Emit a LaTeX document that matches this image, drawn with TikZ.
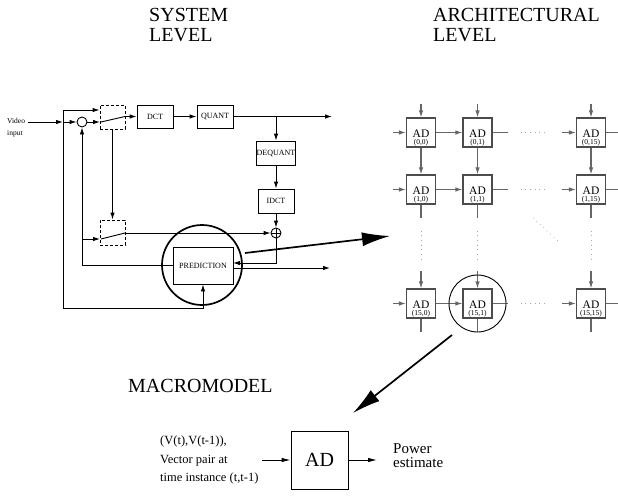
\documentclass[tikz,border=0pt]{standalone}
\usepackage{fontspec}
\setmainfont{Liberation Serif}
\usetikzlibrary{arrows.meta,calc}
\begin{document}
\begin{tikzpicture}[x=1pt,y=-1pt,
  blk/.style={draw,line width=0.9pt,minimum width=36pt,minimum height=24pt,inner sep=0pt,font=\fontsize{8}{9}\selectfont},
  dbox/.style={draw,dash pattern=on 3pt off 2pt,line width=0.9pt,minimum width=25pt,minimum height=24pt,inner sep=0pt},
  sumc/.style={draw,circle,line width=0.9pt,minimum size=10pt,inner sep=0pt},
  wire/.style={line width=0.9pt},
  arr/.style={wire,-{Latex[length=7pt,width=4.5pt]}},
  marr/.style={wire,-{Latex[length=9pt,width=4.5pt]}},
  big/.style={line width=1.7pt,-{Latex[length=28pt,width=14pt]}},
  ad/.style={draw=black!70,line width=1.1pt,minimum size=29pt,inner sep=0pt},
  gw/.style={draw=black!60,line width=1.1pt},
  garr/.style={gw,-{Latex[length=7pt,width=4.5pt]}},
  gdot/.style={draw=black!35,line width=0.7pt,dash pattern=on 0.7pt off 4pt},
  title/.style={font=\fontsize{20}{20}\selectfont,align=left,anchor=north west,inner sep=0pt}
]
\useasboundingbox (0,0) rectangle (618,495);

% titles
\node[title] (tsys) at (149,8.5) {SYSTEM\\LEVEL};
\node[title] (tarch) at (433,8.5) {ARCHITECTURAL\\LEVEL};
\node[inner sep=0pt,anchor=base west,font=\fontsize{20}{20}\selectfont] (tmac) at (128,392) {MACROMODEL};

% ---------- system level ----------
\node[inner sep=0pt,anchor=west,align=left,font=\fontsize{7.5}{12}\selectfont] (vin) at (7,128) {Video\\input};
\node[sumc] (c1) at (82,122) {};
\node[dbox] (s1) at (112.5,117) {};
\node[blk,minimum height=23pt] (dct) at (155,116.5) {DCT};
\node[blk,minimum height=23pt] (quant) at (215,116.5) {QUANT};
\node[blk] (deq) at (276,153) {DEQUANT};
\node[blk] (idct) at (276,201) {IDCT};
\node[sumc] (c2) at (276,233) {};
\draw[wire] (c2.north) -- (c2.south) (c2.west) -- (c2.east);
\node[dbox,minimum height=25pt] (s2) at (112.5,232.5) {};
\node[blk,minimum width=60pt,minimum height=37pt] (pred) at (203,265.5) {PREDICTION};
\node[circle,draw,line width=1.7pt,minimum size=80pt,inner sep=0pt] (bigc) at (202,265) {};

\coordinate (vine) at (28,122);
\coordinate (j1) at (63,122);
\coordinate (lt) at (63,110);
\coordinate (lb) at (63,308);
\coordinate (s1in) at (100,122);
\coordinate (sw1a) at (101,122);
\coordinate (sw1) at (125,116.5);
\coordinate (qout) at (332,116.5);
\coordinate (qbr) at (276,116.5);
\coordinate (fb) at (82,239);
\coordinate (s2in) at (100,239);
\coordinate (sw2a) at (101,239);
\coordinate (sw2) at (125,233);
\coordinate (pin) at (233,263);
\coordinate (pout0) at (233,268);
\coordinate (pout) at (330,268);

\draw[arr] (vine) -- (j1);
\draw[arr] (j1) -- (c1.west);
\draw[arr] (lb) -- (lt) -- (s1.west |- lt);
\draw[arr] (lb) -| (pred.south);
\draw[arr] (c1.east) -- (s1in);
\draw[wire] (sw1a) -- (sw1);
\draw[arr] (sw1) -- (dct.west);
\draw[arr] (dct) -- (quant);
\draw[arr] (quant.east) -- (qout);
\draw[arr] (qbr) -- (deq.north);
\draw[arr] (deq) -- (idct);
\draw[arr] (idct) -- (c2);
\draw[arr] (s1.south) -- (s2.north);
\draw[arr] (pred.west) -| (c1.south);
\draw[arr] (fb) -- (s2in);
\draw[wire] (sw2a) -- (sw2);
\draw[arr] (sw2) -- (c2.west);
\draw[arr] (c2.south) |- (pin);
\draw[arr] (pout0) -- (pout);

\coordinate (ba1s) at (245,253);
\coordinate (ba1e) at (390,236);
\draw[big] (ba1s) -- (ba1e);

% ---------- architectural level ----------
\foreach \rr/\ry/\ri in {0/132.5/0, 1/189.5/1, 2/303.5/15} {
  \foreach \cc/\cx/\ci in {0/421/0, 1/477.5/1, 2/591/15} {
    \node[ad] (b\rr\cc) at (\cx,\ry) {};
    \node[inner sep=0pt,font=\fontsize{11.5}{11}\selectfont] (t\rr\cc) at ($(b\rr\cc.center)+(0,1.5)$) {AD};
    \node[inner sep=0pt,font=\fontsize{7.5}{7}\selectfont] (i\rr\cc) at ($(b\rr\cc.center)+(0,10.5)$) {(\ri,\ci)};
  }
}
\foreach \cc in {0,1,2} {
  \draw[garr] ($(b0\cc.north)+(0,-13)$) -- (b0\cc.north);
  \draw[garr] (b0\cc.south) -- (b1\cc.north);
  \draw[gw] (b1\cc.south) -- ++(0,13);
  \draw[gdot] ($(b1\cc.south)+(0,26)$) -- ++(0,32);
  \draw[garr] ($(b2\cc.north)+(0,-17)$) -- (b2\cc.north);
  \draw[gw] (b2\cc.south) -- ++(0,13);
}
\foreach \rr in {0,1,2} {
  \draw[garr] ($(b\rr0.west)+(-13,0)$) -- (b\rr0.west);
  \draw[garr] (b\rr0.east) -- (b\rr1.west);
  \draw[gw] (b\rr1.east) -- ++(15,0);
  \draw[gdot] ($(b\rr1.east)+(28,0)$) -- ++(28,0);
  \draw[garr] ($(b\rr2.west)+(-14,0)$) -- (b\rr2.west);
  \draw[gw] (b\rr2.east) -- ++(13,0);
}
\coordinate (dg1) at (533,218);
\coordinate (dg2) at (560,243);
\draw[gdot] (dg1) -- (dg2);
\node[circle,draw,line width=0.9pt,minimum size=57pt,inner sep=0pt] (zc) at (b21.center) {};

\coordinate (ba2s) at (452,335);
\coordinate (ba2e) at (353,413);
\draw[big] (ba2s) -- (ba2e);

% ---------- macromodel ----------
\node[draw,line width=0.9pt,minimum width=57pt,minimum height=58pt,inner sep=0pt,font=\fontsize{20}{20}\selectfont] (mad) at (319.5,460) {AD};
\node[inner sep=0pt,anchor=west,align=left,font=\fontsize{12.5}{18.5}\selectfont] (vp) at (160,460) {(V(t),V(t-1)),\\Vector pair at\\time instance (t,t-1)};
\node[inner sep=0pt,anchor=west,align=left,font=\fontsize{15}{14}\selectfont] (pw) at (393,456) {Power\\estimate};
\coordinate (min) at (262,460);
\coordinate (mout) at (377,460);
\draw[marr] (min) -- (mad.west);
\draw[marr] (mad.east) -- (mout);
\end{tikzpicture}
\end{document}
